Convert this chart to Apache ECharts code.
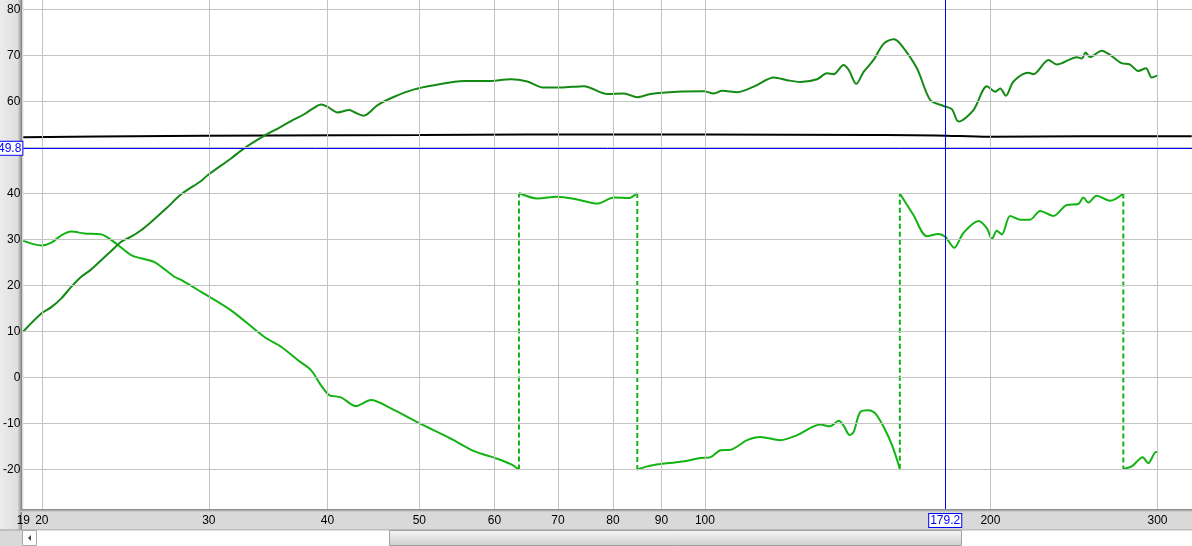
<!DOCTYPE html>
<html>
<head>
<meta charset="utf-8">
<script src="https://cdn.jsdelivr.net/npm/echarts/dist/echarts.min.js"></script>
<style>html,body{margin:0;padding:0;background:#d9d9d9;}#c{width:1192px;height:546px;}</style>
</head>
<body>
<div id="c"></div>
<script>
// ---- data (frequency in Hz, level in dB / phase) ----
const xTickFreqs = [20, 30, 40, 50, 60, 70, 80, 90, 100, 200, 300];
const xLabelFreqs = [19.123, 20, 30, 40, 50, 60, 70, 80, 90, 100, 200, 300];
const yTicks = [-20, -10, 0, 10, 20, 30, 40, 50, 60, 70, 80];
const yLabels = [-20, -10, 0, 10, 20, 30, 40, 60, 70, 80];

const magFreq = [19.12,20.0,20.47,20.97,21.48,22.01,22.55,23.10,23.67,24.25,24.84,25.45,26.08,27.04,28.05,29.44,29.93,31.66,32.68,34.30,35.46,36.62,37.80,38.72,39.39,40.03,41.01,42.18,42.66,43.68,45.19,47.04,49.38,51.83,55.74,58.99,62.42,64.99,67.66,70.46,74.55,78.91,82.15,84.87,87.65,93.50,99.74,102.2,104.3,108.2,112.6,118.2,122.1,126.1,131.3,134.5,136.7,140.0,141.8,144.4,147.0,150.6,154.3,158.1,160.7,167.3,172.8,178.5,182.1,185.1,191.9,198.3,202.3,204.8,207.6,211.5,219.3,222.0,230.2,234.9,246.6,249.6,252.0,254.7,262.0,267.3,275.0,280.6,286.3,291.7,295.8,300.5];
const magVal = [10.0,14.0,15.3,17.2,19.7,21.9,23.5,25.5,27.5,29.5,30.6,32.0,33.8,36.7,39.8,42.7,44.0,47.6,49.8,52.5,54.1,55.7,57.2,58.6,59.3,58.8,57.6,58.1,57.7,56.9,59.2,61.0,62.6,63.5,64.4,64.4,64.8,64.3,63.0,63.0,63.3,61.6,61.7,60.9,61.6,62.1,62.2,61.7,62.3,62.0,63.2,65.2,64.6,64.2,64.8,66.1,65.9,67.9,66.8,63.8,66.4,69.0,72.5,73.5,72.5,67.2,60.3,59.0,58.3,55.6,58.1,63.3,62.1,62.8,61.2,64.3,66.2,65.9,69.0,68.0,69.6,69.3,70.6,69.6,71.0,70.1,68.3,68.0,66.6,67.2,65.2,65.7];

const phaseFreq = [19.12,20.0,20.47,20.97,21.48,22.19,23.10,23.48,24.06,24.84,25.45,26.29,27.59,28.05,29.44,31.66,34.33,35.75,37.22,38.44,39.39,40.18,41.34,42.87,44.46,46.67,49.98,53.54,57.10,59.94,62.42,63.68,63.68,66.59,69.90,73.37,77.01,80.19,83.16,84.87,84.87,86.95,89.81,94.25,98.94,101.4,103.9,106.4,110.8,114.4,120.1,125.1,132.4,135.4,138.4,140.0,142.1,143.5,145.8,148.8,151.2,154.3,157.5,160.5,160.5,165.9,171.4,176.3,179.2,183.2,187.3,194.3,198.3,200.7,203.1,205.6,209.8,214.9,220.2,225.6,233.0,240.7,247.5,250.6,253.6,258.8,267.3,276.1,276.1,281.8,289.4,293.3,298.9,300.5];
const phaseVal = [29.7,28.7,29.3,30.9,31.7,31.3,31.1,30.4,28.8,26.6,25.9,25.1,21.9,21.2,18.6,14.6,8.8,6.7,3.8,1.6,-1.7,-3.8,-4.3,-6.2,-4.9,-6.7,-9.9,-12.9,-16.0,-17.4,-18.8,-20.0,40.1,38.9,39.3,38.7,37.8,39.1,39.0,40.1,-20.0,-19.3,-18.8,-18.3,-17.5,-17.3,-15.8,-15.7,-13.6,-12.9,-13.6,-12.5,-10.2,-10.6,-9.4,-10.4,-12.5,-11.8,-7.5,-7.1,-7.8,-10.7,-14.7,-19.8,40.0,35.3,30.7,31.2,30.6,28.2,31.4,34.0,32.4,30.1,31.9,31.1,35.1,34.3,34.3,36.2,35.1,37.5,37.7,39.1,38.0,39.5,38.4,40.0,-19.8,-19.3,-17.3,-18.6,-16.2,-16.2];

const refFreq = [19.12, 25, 35, 50, 65, 100, 150, 175, 200, 250, 326];
const refVal = [52.2, 52.4, 52.6, 52.7, 52.8, 52.8, 52.7, 52.6, 52.3, 52.4, 52.4];

const cursorFreq = 179.2;
const cursorLevel = 49.8;

// ---- build series ----
const zip = (a, b) => a.map((v, i) => [v, b[i]]);
const phaseSegs = [];
const phaseJumps = [];
let cur = [[phaseFreq[0], phaseVal[0]]];
for (let i = 1; i < phaseFreq.length; i++) {
  if (Math.abs(phaseVal[i] - phaseVal[i - 1]) > 30) {
    phaseSegs.push(cur);
    phaseJumps.push([[phaseFreq[i - 1], phaseVal[i - 1]], [phaseFreq[i], phaseVal[i]]]);
    cur = [];
  }
  cur.push([phaseFreq[i], phaseVal[i]]);
}
phaseSegs.push(cur);

const PHASE = '#12b312', MAG = '#138a13';
const font = 'Liberation Sans, Arial, sans-serif';
const series = [];
series.push({
  type: 'line', data: zip(refFreq, refVal), showSymbol: false, smooth: 0.4,
  lineStyle: { color: '#000', width: 2 }, silent: true, z: 3, clip: false,
  markLine: {
    silent: true, symbol: 'none', animation: false, z: 20,
    lineStyle: { color: '#0000ff', width: 1, type: 'solid' },
    label: {
      position: 'start', color: '#0000ff', backgroundColor: '#fff', borderColor: '#0000ff',
      borderWidth: 1, padding: [1, 1, 0, 1], fontSize: 12, fontFamily: font
    },
    data: [
      { yAxis: cursorLevel, label: { formatter: String(cursorLevel), distance: 1 } },
      { xAxis: cursorFreq, label: { formatter: String(cursorFreq), distance: 5 } }
    ]
  }
});
phaseSegs.forEach(s => series.push({
  type: 'line', data: s, showSymbol: false, smooth: 0.3, silent: true, z: 4,
  lineStyle: { color: PHASE, width: 2 }
}));
phaseJumps.forEach(s => series.push({
  type: 'line', data: s, showSymbol: false, silent: true, z: 4,
  lineStyle: { color: PHASE, width: 2, type: [5, 3] }
}));
series.push({
  type: 'line', data: zip(magFreq, magVal), showSymbol: false, smooth: 0.3, silent: true, z: 5,
  lineStyle: { color: MAG, width: 2 }
});

const chart = echarts.init(document.getElementById('c'), null, { renderer: 'canvas' });
chart.setOption({
  animation: false,
  backgroundColor: '#d9d9d9',
  grid: { left: 22, right: 0, top: 0, bottom: 37, show: true, backgroundColor: '#fff', borderWidth: 0 },
  xAxis: {
    type: 'log', logBase: 10, min: 19.123, max: 326.2, z: 10,
    axisLine: { show: false },
    axisTick: { show: false, customValues: xTickFreqs },
    axisLabel: { customValues: xLabelFreqs, formatter: v => String(Math.round(v)), margin: 6,
      color: '#000', fontSize: 12, fontFamily: font, showMinLabel: true, showMaxLabel: true },
    splitLine: { show: true, lineStyle: { color: '#c4c4c4', width: 1 } },
    minorSplitLine: { show: false }
  },
  yAxis: {
    type: 'value', min: -28.56, max: 82.02, z: 10,
    axisLine: { show: false },
    axisTick: { show: false, customValues: yTicks },
    axisLabel: { customValues: yLabels, margin: 3, color: '#000', fontSize: 12, fontFamily: font },
    splitLine: { show: true, lineStyle: { color: '#c4c4c4', width: 1 } }
  },
  graphic: [
    { type: 'rect', z: -10, silent: true, shape: { x: 0, y: 0, width: 22, height: 530 },
      style: { fill: new echarts.graphic.LinearGradient(0, 0, 1, 0, [
        { offset: 0, color: '#ececec' }, { offset: 0.8, color: '#dedede' },
        { offset: 0.9, color: '#b4b4b4' }, { offset: 1, color: '#7c7c7c' }]) } },
    { type: 'rect', z: -10, silent: true, shape: { x: 20, y: 509, width: 1172, height: 3 },
      style: { fill: new echarts.graphic.LinearGradient(0, 0, 0, 1, [
        { offset: 0, color: '#808080' }, { offset: 1, color: '#d9d9d9' }]) } },
    { type: 'rect', z: -10, silent: true, shape: { x: 0, y: 529.5, width: 1192, height: 1 },
      style: { fill: '#a0a0a0' } },
    { type: 'rect', z: -10, silent: true, shape: { x: 22, y: 530.5, width: 1170, height: 15.5 },
      style: { fill: '#fff' } },
    { type: 'rect', z: -9, silent: true, shape: { x: 22.5, y: 530.5, width: 14, height: 15 },
      style: { fill: '#fff', stroke: '#a8a8a8', lineWidth: 1 } },
    { type: 'polygon', z: -8, silent: true, shape: { points: [[31, 535], [31, 541], [28, 538]] },
      style: { fill: '#404040' } },
    { type: 'rect', z: -9, silent: true, shape: { x: 389.5, y: 530.5, width: 572, height: 15 },
      style: { fill: new echarts.graphic.LinearGradient(0, 0, 0, 1, [
        { offset: 0, color: '#f8f8f8' }, { offset: 1, color: '#cdcdcd' }]), stroke: '#a0a0a0', lineWidth: 1 } }
  ],
  series: series
});
</script>
</body>
</html>
